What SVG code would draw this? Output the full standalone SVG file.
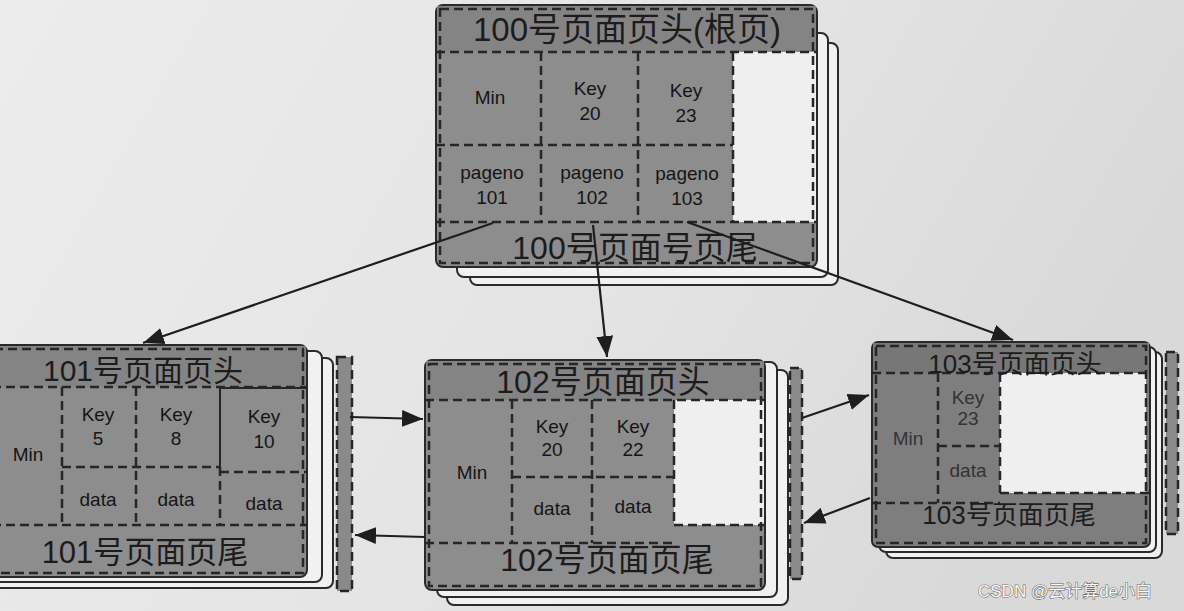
<svg xmlns="http://www.w3.org/2000/svg" width="1184" height="611" viewBox="0 0 1184 611">
<defs>
<linearGradient id="bg" x1="0" y1="0" x2="1" y2="0.3">
<stop offset="0" stop-color="#ececec"/>
<stop offset="0.6" stop-color="#e4e4e4"/>
<stop offset="1" stop-color="#d9d9d9"/>
</linearGradient>
<marker id="ah" viewBox="0 0 20 16" refX="20" refY="8" markerWidth="21" markerHeight="17" markerUnits="userSpaceOnUse" orient="auto">
<path d="M0,0 L20,8 L0,16 Z" fill="#1e1e1e"/>
</marker>
<style>
.back{fill:#f1f1f1;stroke:#2a2a2a;stroke-width:2}
.main{fill:#8d8d8d;stroke:#2a2a2a;stroke-width:2}
.hdr{fill:#848484}
.white{fill:#efefef}
.d{fill:none;stroke:#262626;stroke-width:2.5;stroke-dasharray:9 5}
.s{fill:none;stroke:#262626;stroke-width:2}
.strip{fill:#8a8a8a;stroke:#262626;stroke-width:2.5;stroke-dasharray:9 5}
.big{font-family:"Liberation Sans","Noto Sans CJK SC",sans-serif;fill:#1c1c1c;text-anchor:middle}
.cell{font-family:"Liberation Sans","Noto Sans CJK SC",sans-serif;fill:#151515;text-anchor:middle;font-size:19px}
.conn{fill:none;stroke:#1e1e1e;stroke-width:2.2;marker-end:url(#ah)}
</style>
</defs>
<rect width="1184" height="611" fill="url(#bg)"/>

<g id="page100">
<rect class="back" x="470" y="43" width="368" height="242" rx="7"/>
<rect class="back" x="457" y="33" width="371" height="244" rx="7"/>
<rect class="main" x="436" y="5" width="381" height="262" rx="7"/>
<rect class="hdr" x="437" y="6" width="379" height="45"/>
<rect class="white" x="733" y="52" width="83" height="170"/>
<rect class="d" x="440" y="9" width="373" height="254"/>
<path class="d" d="M436,52 H817 M541,52 V222 M638,52 V222 M733,52 V222 M436,145 H733 M436,222 H817"/>
<text class="big" x="627" y="41" font-size="33">100号页面页头(根页)</text>
<text class="cell" x="490" y="104">Min</text>
<text class="cell" x="590" y="95">Key</text>
<text class="cell" x="590" y="120">20</text>
<text class="cell" x="686" y="97">Key</text>
<text class="cell" x="686" y="122">23</text>
<text class="cell" x="492" y="179">pageno</text>
<text class="cell" x="492" y="204">101</text>
<text class="cell" x="592" y="179">pageno</text>
<text class="cell" x="592" y="204">102</text>
<text class="cell" x="687" y="180">pageno</text>
<text class="cell" x="687" y="205">103</text>
<text class="big" x="635" y="259" font-size="32">100号页面号页尾</text>
</g>

<g id="page101">
<rect class="back" x="-20" y="358" width="353" height="230" rx="7"/>
<rect class="back" x="-14" y="351" width="336" height="231" rx="7"/>
<rect class="main" x="-10" y="345" width="317" height="232" rx="7"/>
<rect class="hdr" x="-9" y="346" width="315" height="41"/>
<rect class="d" x="-6" y="349" width="309" height="224"/>
<path class="d" d="M-8,387 H307 M62,387 V525 M136,387 V525 M220,467 V525 M62,467 H220 M220,472 H307 M-8,525 H307"/>
<path class="s" d="M220,467 V388 H307"/>
<rect class="strip" x="337" y="357" width="15" height="234"/>
<text class="big" x="143" y="381" font-size="30">101号页面页头</text>
<text class="cell" x="28" y="461" font-size="16">Min</text>
<text class="cell" x="98" y="421">Key</text>
<text class="cell" x="98" y="445">5</text>
<text class="cell" x="176" y="421">Key</text>
<text class="cell" x="176" y="445">8</text>
<text class="cell" x="264" y="423">Key</text>
<text class="cell" x="264" y="448">10</text>
<text class="cell" x="98" y="506">data</text>
<text class="cell" x="176" y="506">data</text>
<text class="cell" x="264" y="510">data</text>
<text class="big" x="145" y="563" font-size="31">101号页面页尾</text>
</g>

<g id="page102">
<rect class="back" x="447" y="370" width="341" height="235" rx="7"/>
<rect class="back" x="437" y="362" width="340" height="235" rx="7"/>
<rect class="main" x="425" y="360" width="340" height="230" rx="7"/>
<rect class="hdr" x="426" y="361" width="338" height="39"/>
<rect class="white" x="674" y="400" width="90" height="125"/>
<rect class="d" x="429" y="364" width="332" height="222"/>
<path class="d" d="M425,400 H765 M512,400 V543 M592,400 V543 M674,400 V525 M512,477 H674 M425,543 H674 M674,525 H765"/>
<rect class="strip" x="790" y="368" width="12" height="211"/>
<text class="big" x="603" y="393" font-size="32">102号页面页头</text>
<text class="cell" x="472" y="479">Min</text>
<text class="cell" x="552" y="433">Key</text>
<text class="cell" x="552" y="456">20</text>
<text class="cell" x="633" y="433">Key</text>
<text class="cell" x="633" y="456">22</text>
<text class="cell" x="552" y="515">data</text>
<text class="cell" x="633" y="513">data</text>
<text class="big" x="607" y="571" font-size="32">102号页面页尾</text>
</g>

<g id="page103">
<rect class="back" x="886" y="352" width="276" height="206" rx="7"/>
<rect class="back" x="879" y="347" width="277" height="205" rx="7"/>
<rect class="main" x="872" y="342" width="278" height="205" rx="6" style="fill:#7e7e7e"/>
<rect class="hdr" x="873" y="343" width="276" height="30" style="fill:#777"/>
<rect class="white" x="1000" y="373" width="146" height="120"/>
<rect class="d" x="876" y="346" width="270" height="197"/>
<path class="d" d="M872,373 H1150 M938,373 V503 M1000,373 V493 M938,446 H1000 M872,503 H1000 M1000,493 H1150"/>
<rect class="strip" x="1166" y="352" width="12" height="182"/>
<text class="big" x="1015" y="373" font-size="26">103号页面页头</text>
<text class="cell" x="908" y="445" font-size="16" style="fill:#333">Min</text>
<text class="cell" x="968" y="404" font-size="14" style="fill:#333">Key</text>
<text class="cell" x="968" y="425" font-size="14" style="fill:#333">23</text>
<text class="cell" x="968" y="477" font-size="14" style="fill:#333">data</text>
<text class="big" x="1009" y="524" font-size="26">103号页面页尾</text>
</g>

<g id="connectors">
<line class="conn" x1="493" y1="223" x2="143" y2="343"/>
<line class="conn" x1="593" y1="225" x2="607" y2="357"/>
<line class="conn" x1="687" y1="222" x2="1013" y2="340"/>
<line class="conn" x1="350" y1="417" x2="423" y2="419"/>
<line class="conn" x1="425" y1="537" x2="355" y2="535"/>
<line class="conn" x1="802" y1="418" x2="869" y2="395"/>
<line class="conn" x1="870" y1="498" x2="804" y2="523"/>
</g>

<text x="978" y="597" font-family="Liberation Sans,Noto Sans CJK SC,sans-serif" font-size="17" fill="#fafafa" stroke="#6e6e6e" stroke-width="1.2" paint-order="stroke">CSDN @云计算de小白</text>
</svg>
